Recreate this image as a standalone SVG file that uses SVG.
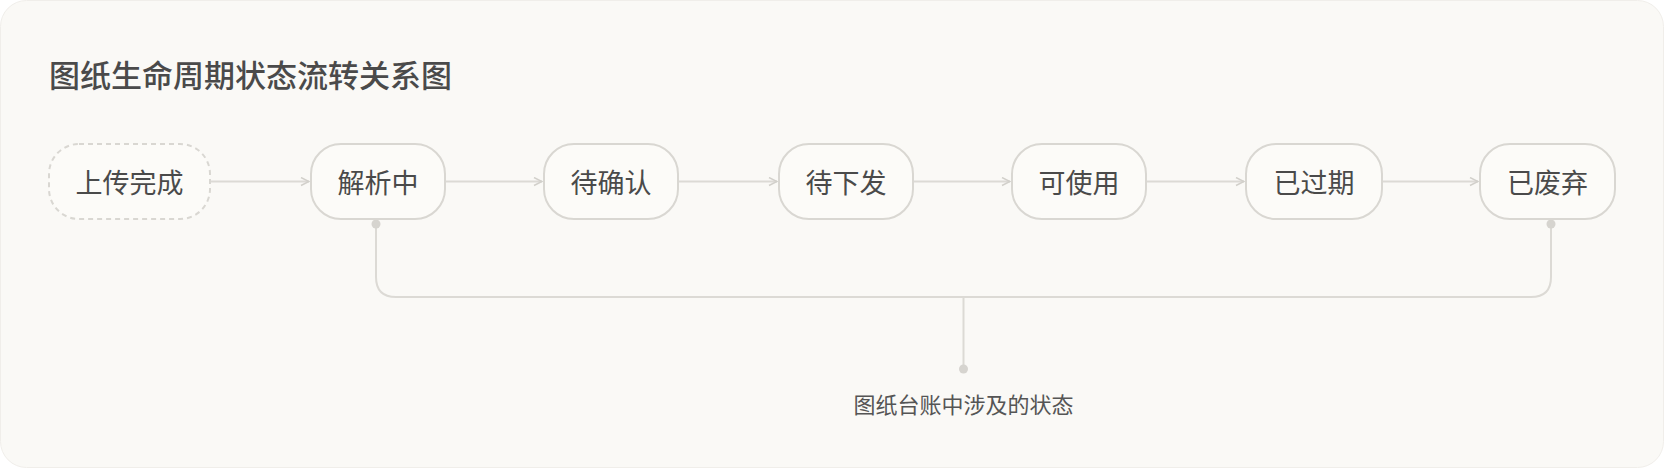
<svg xmlns="http://www.w3.org/2000/svg" width="1664" height="468" viewBox="0 0 1664 468">
<defs>
<style>
.n{fill:#fcfbf8;stroke:#d9d7d2;stroke-width:2}
.t{font-family:"Noto Sans CJK SC","Noto Sans",sans-serif;font-size:27px;fill:#4a4a4a;text-anchor:middle;dominant-baseline:central}
.c{fill:none;stroke:#dcdad5;stroke-width:2}
</style>
<marker id="a" viewBox="0 0 10 10" refX="9" refY="5" markerWidth="10" markerHeight="10" markerUnits="userSpaceOnUse" orient="auto"><path d="M1,1 L9,5 L1,9" fill="none" stroke="#d2d0cb" stroke-width="1.5"/></marker>
</defs>
<rect x="0.5" y="0.5" width="1663" height="467" rx="26" fill="#faf9f6" stroke="#f0eeea" stroke-width="1"/>
<text x="49" y="73" font-family="Noto Sans CJK SC,sans-serif" font-size="31" font-weight="500" fill="#4a4a4a" dominant-baseline="central">图纸生命周期状态流转关系图</text>
<g id="connectors">
<line class="c" x1="211" y1="181.5" x2="309" y2="181.5" marker-end="url(#a)"/>
<line class="c" x1="446" y1="181.5" x2="542" y2="181.5" marker-end="url(#a)"/>
<line class="c" x1="679" y1="181.5" x2="777" y2="181.5" marker-end="url(#a)"/>
<line class="c" x1="914" y1="181.5" x2="1010" y2="181.5" marker-end="url(#a)"/>
<line class="c" x1="1147" y1="181.5" x2="1244" y2="181.5" marker-end="url(#a)"/>
<line class="c" x1="1383" y1="181.5" x2="1478" y2="181.5" marker-end="url(#a)"/>
<path class="c" d="M376,224 V277 Q376,297 396,297 H1531 Q1551,297 1551,277 V224"/>
<line class="c" x1="963.5" y1="297" x2="963.5" y2="369"/>
<circle cx="376" cy="224" r="4.5" fill="#d6d4cf"/>
<circle cx="1551" cy="224" r="4.5" fill="#d6d4cf"/>
<circle cx="963.5" cy="369" r="4.5" fill="#d6d4cf"/>
</g>
<g id="n0"><rect class="n" x="49" y="144" width="161" height="75" rx="30" stroke-dasharray="5 4"/><text class="t" x="129.5" y="181.5">上传完成</text></g>
<g id="n1"><rect class="n" x="311" y="144" width="134" height="75" rx="30"/><text class="t" x="378" y="181.5">解析中</text></g>
<g id="n2"><rect class="n" x="544" y="144" width="134" height="75" rx="30"/><text class="t" x="611" y="181.5">待确认</text></g>
<g id="n3"><rect class="n" x="779" y="144" width="134" height="75" rx="30"/><text class="t" x="846" y="181.5">待下发</text></g>
<g id="n4"><rect class="n" x="1012" y="144" width="134" height="75" rx="30"/><text class="t" x="1079" y="181.5">可使用</text></g>
<g id="n5"><rect class="n" x="1246" y="144" width="136" height="75" rx="30"/><text class="t" x="1314" y="181.5">已过期</text></g>
<g id="n6"><rect class="n" x="1480" y="144" width="135" height="75" rx="30"/><text class="t" x="1547.5" y="181.5">已废弃</text></g>
<g id="label"><text class="t" x="963.5" y="403" style="font-size:22px;fill:#555">图纸台账中涉及的状态</text></g>
</svg>
